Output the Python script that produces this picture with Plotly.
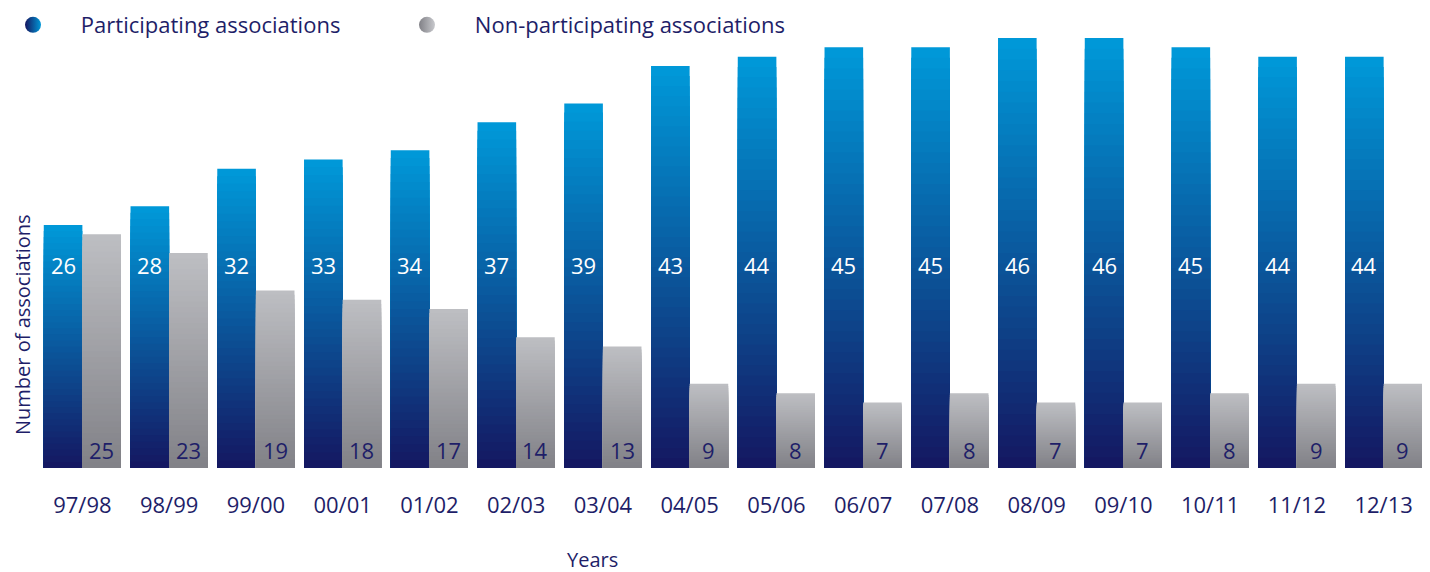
import plotly.graph_objects as go

years = ["97/98", "98/99", "99/00", "00/01", "01/02", "02/03", "03/04", "04/05",
         "05/06", "06/07", "07/08", "08/09", "09/10", "10/11", "11/12", "12/13"]
participating = [26, 28, 32, 33, 34, 37, 39, 43, 44, 45, 45, 46, 46, 45, 44, 44]
non_participating = [25, 23, 19, 18, 17, 14, 13, 9, 8, 7, 8, 7, 7, 8, 9, 9]

NAVY = "#1e1e68"
FONT = "Open Sans"
N = 40
BW = 0.445
PAD = "\u00a0" * 4

# the page body adds an 8px offset, so the figure is sized to fit inside
W, H = 1422, 564
L, R, T, B = 31, 3, 30, 104
pw, ph = W - L - R, H - T - B


def lerp(c1, c2, t):
    a = [int(c1[i:i + 2], 16) for i in (1, 3, 5)]
    b = [int(c2[i:i + 2], 16) for i in (1, 3, 5)]
    return "rgb(%d,%d,%d)" % tuple(round(a[j] + (b[j] - a[j]) * t) for j in range(3))


fig = go.Figure()


def gradient_bars(vals, top, bottom, offset):
    for k in range(N):
        frac = (N - k) / N
        fig.add_trace(go.Bar(
            x=years, y=[v * frac for v in vals], base=0,
            width=BW, offset=offset,
            marker=dict(color=lerp(bottom, top, frac), line=dict(width=0)),
            showlegend=False, hoverinfo="skip"))


gradient_bars(participating, "#0098d8", "#15155f", -BW)
gradient_bars(non_participating, "#bdbec2", "#808086", 0)

# legend entries
fig.add_trace(go.Scatter(x=[None], y=[None], mode="markers", name=PAD + "Participating associations",
                         marker=dict(symbol="circle", size=19, color="#15155f",
                                     gradient=dict(type="horizontal", color="#0098d8"))))
fig.add_trace(go.Scatter(x=[None], y=[None], mode="markers", name=PAD + "Non-participating associations",
                         marker=dict(symbol="circle", size=19, color="#808086",
                                     gradient=dict(type="horizontal", color="#c8c9cd"))))

ann = []
for i, (p, n) in enumerate(zip(participating, non_participating)):
    ann.append(dict(x=i - BW / 2, y=0.472, xref="x", yref="paper", text=str(p), showarrow=False,
                    xanchor="center", yanchor="middle",
                    font=dict(family=FONT, size=22, color="white")))
    ann.append(dict(x=i + BW / 2, y=0.042, xref="x", yref="paper", text=str(n), showarrow=False,
                    xanchor="center", yanchor="middle",
                    font=dict(family=FONT, size=22, color=NAVY)))


def px_to_paper(xp, yp):
    return (xp - L) / pw, (H - B - yp) / ph


yx, yy = px_to_paper(14, 317)
ann.append(dict(x=yx, y=yy, xref="paper", yref="paper", text="Number of associations",
                showarrow=False, textangle=-90, xanchor="center", yanchor="middle", borderpad=0,
                font=dict(family=FONT, size=20, color=NAVY)))
tx, ty = px_to_paper(584, 551)
ann.append(dict(x=tx, y=ty, xref="paper", yref="paper", text="Years",
                showarrow=False, xanchor="center", yanchor="middle", borderpad=0,
                font=dict(family=FONT, size=20, color=NAVY)))

fig.update_layout(
    width=W, height=H,
    margin=dict(l=L, r=R, t=T, b=B, autoexpand=False),
    barmode="overlay",
    plot_bgcolor="white", paper_bgcolor="white",
    font=dict(family=FONT, color=NAVY),
    xaxis=dict(type="category", range=[-0.5, 15.5], showgrid=False, showline=False,
               ticks="", tickfont=dict(family=FONT, size=22, color=NAVY), ticklabelstandoff=22),
    yaxis=dict(range=[0, 46], visible=False),
    legend=dict(orientation="h", xref="container", x=0.0, xanchor="left",
                yref="container", y=1 - 17 / H, yanchor="middle",
                font=dict(family=FONT, size=22, color=NAVY), itemwidth=40,
                entrywidth=339, entrywidthmode="pixels", bgcolor="rgba(0,0,0,0)"),
    annotations=ann,
)

fig.write_html("out.html")
